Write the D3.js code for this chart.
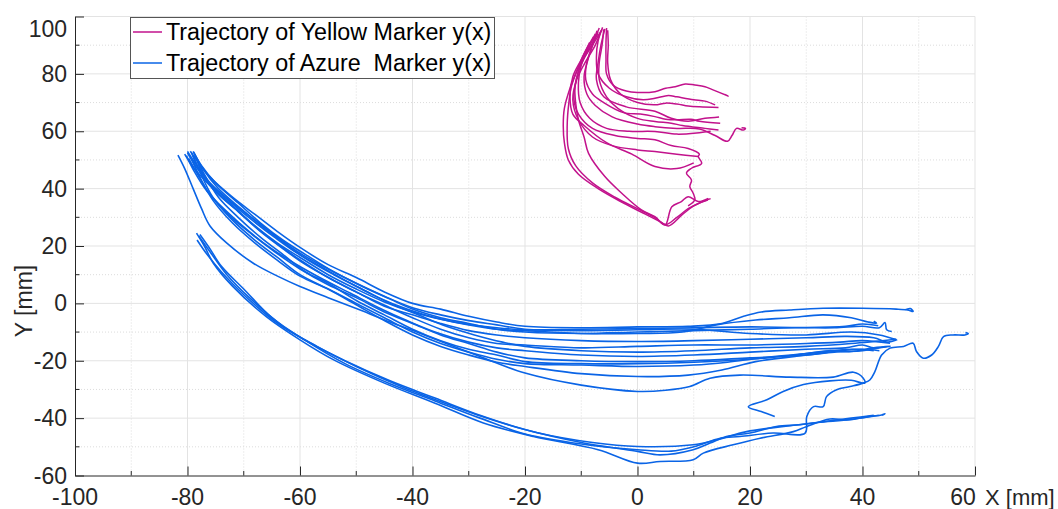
<!DOCTYPE html>
<html>
<head>
<meta charset="utf-8">
<script src="https://cdn.jsdelivr.net/npm/d3@7"></script>
<style>
  body { margin: 0; background: #fff; }
  svg { display: block; font-family: "Liberation Sans", Arial, sans-serif; }
</style>
</head>
<body>
<div id="chart"></div>
<script>
// ---- data (mm) ----
const xMajor = [-100, -80, -60, -40, -20, 0, 20, 40, 60];
const xMinor = [-90, -70, -50, -30, -10, 10, 30, 50];
const yMajor = [-60, -40, -20, 0, 20, 40, 60, 80, 100];
const yMinor = [-50, -30, -10, 10, 30, 50, 70, 90];
const legendLabels = ["Trajectory of Yellow Marker y(x)", "Trajectory of Azure  Marker y(x)"];

// yellow marker runs
const yellow1 = [[-5.5,96],[-5.6,91],[-5.6,85],[-5.5,80],[-4.3,76],[-2,74],[0,73.5],[3.1,73.8],[5,75],[6.7,75.5],[8.5,76.5],[10.2,76.1],[12,75.5],[13.2,74.6],[16.1,72.3],[15.5,72.8]];
const yellow2 = [[-6.2,96.2],[-7,91.5],[-7.3,86],[-7,80],[-5,75],[-2,72],[1,71],[3.1,71.5],[5.5,72.5],[7,72],[10,71],[12,70.5],[13.8,69.2]];
const yellow3 = [[-5.3,95.2],[-5.2,90],[-5.3,84],[-4.8,78],[-3,73],[0,70],[3.1,69.2],[5,69.8],[7,69.5],[9,68.8],[11,68.5],[14.4,68.3]];
const yellow4 = [[-7.2,95],[-8,90],[-9,84],[-9.2,78],[-8,73],[-6,70],[-2.5,66.5],[0.5,66],[3.1,65.1],[5,64.2],[7,64],[9.5,64.2],[11,63.5],[14.7,62.8]];
const yellow5 = [[-6,95.5],[-6.3,90],[-6.8,84],[-6.8,78],[-5.5,72],[-3.5,68],[0,64.5],[3.1,63.4],[6,62.8],[8,62],[12,61],[14.4,60.4]];
const yellow6 = [[-6.8,96],[-7.8,91],[-8.8,85],[-9.5,79],[-9,73],[-7.5,69],[-4.5,65],[0,62.5],[3.1,61.6],[7,61],[11,60.8],[13.8,58.5],[16,56.5],[16.8,58.5],[17.6,61],[18.8,60.4],[19.2,61],[18.5,61.2]];
const yellow7 = [[-7.5,94],[-8.7,89],[-10,83],[-10.5,77],[-10.2,70],[-8.5,64.5],[-5.5,61],[-1.5,60],[3.1,59.9],[7,59],[11,59.5],[13,60]];
const yellow8 = [[-7,94.5],[-8.5,90],[-10,84],[-11,77],[-11.3,71],[-10.5,66],[-8,61],[-4,58.5],[0,57.5],[3.1,57],[6,55],[9,54],[11,52],[10.8,51.2],[11.4,48.8],[9.6,47.1],[8.7,45.4],[9.6,43],[9.3,40.7],[9.9,38.4],[10.2,36.1],[9,34]];
const yellow9 = [[-6.5,95],[-7.5,90],[-9.3,84],[-10.8,78],[-11.5,71],[-10.5,64],[-8,58],[-4.5,55],[0,53.5],[3.1,52.9],[7,52],[10.8,51.2]];
const yellow10 = [[-7,94],[-8.8,88],[-10.3,82],[-11.1,75.5],[-11,70],[-10.5,64],[-9.5,58],[-8.7,52.3],[-5.8,44.2],[-2.8,38.4],[0.7,32.6],[3.1,30.2],[4.9,27.3],[6.1,33.7],[7.8,35.5],[9,37.2],[10.8,35.5],[12.6,36.6]];
const yellow11 = [[-6.3,95.5],[-8,90],[-10,84],[-11.7,76],[-12.2,70],[-12.5,62],[-12.3,54],[-11,48],[-8,42],[-4,37],[0,33],[3,30],[5,27.5],[7,30],[9,33],[11,35],[13,36.5]];
const yellow12 = [[-7.8,93],[-9.5,87],[-10.8,81],[-12,75],[-13,68],[-13.2,62],[-13,56],[-12.3,50],[-10.5,45],[-7,40],[-3,35.5],[1,31.5],[4,28.5],[5.5,27],[8,31],[10,34],[12.5,36]];
const yellow13 = [[-5.8,95.7],[-6.5,90],[-7,84],[-7.3,78],[-6,72],[-2,68.5],[3.1,67],[6,64.5],[9,63.5],[12,64.5],[14.5,65]];
const yellow14 = [[-8.5,91],[-10,85],[-11.5,79],[-12,72],[-11.5,66],[-9.5,62],[-5.5,56],[-1,52],[3.1,47.7],[7,47],[10,49]];

// azure marker runs
const azure1 = [[-79.5,53],[-78,49],[-76,44],[-72,37],[-68,31],[-64,25],[-60,19.5],[-55,13.5],[-50,9],[-45,4],[-40,0],[-35,-2],[-30,-4.5],[-25,-6.5],[-20,-8],[-10,-8.5],[0,-8.2],[9,-8],[15,-7],[19,-4.4],[22,-3],[27,-2.3],[33,-1.7],[40,-1.7],[46,-2],[48,-2.3],[49,-2.8],[48.5,-1.8],[47.5,-2.3]];
const azure2 = [[-80,53],[-78.5,48.5],[-76,42],[-72,35],[-68,29],[-64,23],[-60,17.5],[-55,12],[-50,7],[-45,2.5],[-40,-1.5],[-35,-4],[-30,-6],[-25,-7.5],[-20,-9],[-10,-9.5],[0,-9.2],[10,-9],[20,-10.5],[30,-11],[38,-10],[43,-11],[46.1,-12.7],[45.5,-12.3]];
const azure3 = [[-79,53],[-77.5,48],[-75,42],[-71,35],[-67,28],[-63,22],[-59,17],[-54,11],[-49,6],[-44,1.5],[-40,-2],[-35,-5],[-30,-7],[-25,-9],[-20,-10],[-10,-10.5],[0,-10],[10,-9.5],[20,-9],[28,-8.5],[35,-8.5],[40,-8],[43,-8.5],[44,-6.7],[44.3,-9.2],[45.2,-9.8]];
const azure4 = [[-80.5,52],[-79,47.5],[-76,41],[-72,34],[-68,27],[-64,21],[-60,16],[-55,10],[-50,5],[-45,0.5],[-40,-3],[-35,-5.5],[-30,-7.5],[-25,-9],[-20,-9.5],[-10,-10.5],[0,-10.5],[8,-10],[14,-7.5],[21,-5.8],[27,-5],[33,-4],[38,-5],[41,-6.5],[42.5,-6.9],[42,-6.2]];
const azure5 = [[-79.3,52.5],[-78,47],[-75.5,40],[-71.5,33],[-67.5,26],[-63.5,20],[-59.5,14.5],[-55,9],[-50,4],[-45,-1],[-40,-4],[-35,-7],[-30,-9.5],[-25,-11],[-20,-12],[-10,-13],[0,-13.3],[10,-13],[20,-12.5],[30,-12],[37,-11.5],[42,-12],[44.5,-13.5],[46,-12.8]];
const azure6 = [[-78.7,52],[-77.5,46],[-75,39],[-71,32],[-67,25],[-63,19],[-59,13.5],[-54,8],[-49,3],[-44,-1.5],[-40,-5],[-35,-9],[-30,-12],[-25,-14],[-20,-14.5],[-10,-15.5],[0,-15],[10,-14.5],[20,-14.5],[30,-14],[36,-13.5],[40,-13],[44.9,-13.9]];
const azure7 = [[-80.2,51.5],[-78.8,46],[-76.5,39],[-73,32],[-69,25],[-65,19],[-61,14],[-56,8.5],[-51,3.5],[-46,-1.5],[-41,-6],[-36,-10],[-30,-13.5],[-25,-15.5],[-20,-16.5],[-10,-18],[0,-18.5],[10,-18],[20,-17],[30,-16],[37,-15.5],[40,-14.5],[42,-15.5],[44.3,-15.1]];
const azure8 = [[-79.8,50.5],[-78.2,45],[-76,38],[-72.5,30.5],[-68.5,24],[-64.5,18],[-60,12],[-55,6.5],[-50,2],[-45,-3],[-40,-7],[-35,-11],[-30,-14],[-25,-17],[-20,-19],[-10,-20],[0,-20.3],[10,-20],[20,-19],[30,-18],[36,-16.5],[40,-16],[43,-16.5]];
const azure9 = [[-78.5,51],[-77,45],[-74.5,37],[-71,30],[-67,23],[-63,17],[-59,11],[-55,7],[-50,1],[-45,-4],[-40,-9],[-35,-13],[-30,-16],[-25,-18],[-20,-20.3],[-10,-21],[0,-21],[10,-20.5],[20,-19.5],[28,-18],[34,-16.5],[38,-16.8],[42,-15.5],[45,-15]];
const azure10 = [[-79.2,50],[-77.8,44],[-75.5,36],[-72,28],[-68,21],[-64,15],[-60,9.5],[-55,5],[-50,0],[-45,-5],[-40,-10],[-35,-14],[-30,-17],[-25,-19.5],[-20,-21],[-10,-21.5],[0,-22],[10,-21.5],[16,-20.5],[22,-19],[30,-17.5],[38,-16],[42,-16.5]];
const azure11 = [[-79,51.5],[-77.7,45.5],[-75.5,37],[-72,29],[-68,22],[-64,16],[-60,10],[-55,5],[-50,-0.5],[-45,-6],[-40,-11],[-35,-15],[-30,-18],[-25,-20.5],[-20,-22],[-10,-24.5],[0,-25.5],[9,-25],[15,-23.2],[21,-20.3],[28,-18.5],[35,-17],[40,-16.5],[43,-15.5]];
const azure12 = [[-81.7,51.7],[-80.5,47],[-79,40],[-77.5,33],[-76,27],[-73,21],[-68.3,14],[-64,9.5],[-60,5.9],[-55,2],[-49.3,-2.3],[-44,-6.5],[-38.7,-10.4],[-34,-14],[-28,-18.5],[-20,-24.3],[-10,-28.5],[0,-30.7],[5,-30.3],[9.3,-29],[12.9,-26.1],[18.2,-25],[27.1,-25.7],[34.8,-25.7],[38.4,-24],[40.1,-26],[40.4,-27.8],[38,-26.8],[34.2,-27],[29.5,-28.3],[25.9,-30.7],[23,-33.6],[19.7,-36],[22,-37.7],[24.4,-39.4]];
const azure13 = [[-80,52.5],[-78.6,48],[-76.2,42],[-72.5,35.5],[-68.5,29],[-64.5,23],[-60.5,17.5],[-56,12.5],[-51,7],[-46,2],[-41,-2],[-36,-5],[-31,-7],[-25,-8.5],[-20,-9.2],[-10,-9],[0,-8.8],[10,-8.5],[20,-8.2],[30,-8.4],[37,-8],[40,-7.2],[42.8,-7.8]];
const azure14 = [[-78.9,52.7],[-77.3,47],[-74.5,40],[-70.5,33],[-66.5,26.5],[-62.5,20.5],[-58.5,15],[-54,10],[-49,5],[-44,0],[-39,-4],[-34,-8],[-29,-11],[-24,-13.5],[-20,-15],[-10,-16.5],[0,-17],[10,-16.5],[20,-15.5],[30,-15],[38,-14],[46,-12.5]];
const azure15 = [[-78.4,24.5],[-77,20],[-75.4,14],[-72,6],[-66,-4.6],[-60,-12.7],[-54,-19.7],[-45,-27.8],[-36,-34.8],[-27.4,-41.7],[-18.5,-46.4],[-7,-51],[0,-55.7],[4,-55.1],[9.9,-54.5],[11.7,-52.2],[17,-49.3],[21.8,-47],[27.7,-44.7],[30,-43],[34.2,-40.3],[37.2,-40.6],[41.3,-39.4],[43.4,-38.9],[44,-38.5],[43.5,-39]];
const azure16 = [[-78.3,22.1],[-76.5,17],[-74,11],[-70,3],[-64,-7],[-58,-14],[-52,-20],[-44,-27],[-36,-33],[-28,-39],[-20,-44],[-10,-48.5],[0,-51.6],[4,-52.8],[9.9,-51],[12.9,-48.7],[15.8,-46.4],[20,-45.2],[24.7,-42.9],[28.9,-42.3],[34,-41],[38,-40],[42,-39]];
const azure17 = [[-78,23.5],[-76,18],[-73,10],[-69,2],[-63,-8],[-57,-15],[-50,-22],[-42,-29],[-34,-35],[-26,-40.5],[-18,-45],[-8,-48.5],[0,-49.9],[9.9,-49.3],[14,-47.6],[19.4,-44.7],[26,-42.9],[32,-41.5],[38,-40.5],[43,-39]];
const azure18 = [[-77.8,24],[-76,19],[-74,13],[-70,5],[-65,-5],[-59,-13],[-52,-21],[-44,-28],[-36,-34],[-28,-40],[-20,-45.5],[-10,-49],[0,-51],[6,-51.5],[10,-50],[14.7,-47],[18.2,-46.4],[24.1,-45.2],[29.8,-45.2],[30.1,-39.4],[31.3,-36],[33,-36],[33.6,-32.5],[35.4,-30.1],[37.8,-29],[40.1,-27.8],[41.3,-26.7],[42.2,-23.8],[43.4,-18],[44.9,-15.6],[47.3,-15],[49,-13.9],[49.6,-16.8],[50.8,-19.1],[52.3,-18],[53.5,-15],[54.4,-11.6],[56.1,-11],[58.2,-11],[58.8,-10.5],[58.3,-10.2]];

const yellowRuns = [yellow1, yellow2, yellow3, yellow4, yellow5, yellow6, yellow7, yellow8, yellow9, yellow10, yellow11, yellow12, yellow13, yellow14];
const azureRuns = [azure1, azure2, azure3, azure4, azure5, azure6, azure7, azure8, azure9, azure10, azure11, azure12, azure13, azure14, azure15, azure16, azure17, azure18];

// ---- layout ----
const W = 1058, H = 509;
const plotLeft = 75, plotRight = 975, plotTop = 16.5, plotBottom = 475.5;
const ink = "#262626";
const yellowColor = "#c2128c";
const azureColor = "#0a64e6";

const x = d3.scaleLinear().domain([-100, 60]).range([plotLeft, plotRight]);
const y = d3.scaleLinear().domain([-60, 100]).range([plotBottom, plotTop]);

const svg = d3.select("#chart").append("svg")
  .attr("width", W)
  .attr("height", H);

// minor grid (dotted)
svg.append("g").selectAll("line")
  .data(xMinor)
  .join("line")
  .attr("x1", d => x(d)).attr("x2", d => x(d))
  .attr("y1", plotTop).attr("y2", plotBottom)
  .attr("stroke", "#dcdcdc")
  .attr("stroke-dasharray", "1,2");
svg.append("g").selectAll("line")
  .data(yMinor)
  .join("line")
  .attr("x1", plotLeft).attr("x2", plotRight)
  .attr("y1", d => y(d)).attr("y2", d => y(d))
  .attr("stroke", "#dcdcdc")
  .attr("stroke-dasharray", "1,2");

// major grid
svg.append("g").selectAll("line")
  .data(xMajor.slice(1))
  .join("line")
  .attr("x1", d => x(d)).attr("x2", d => x(d))
  .attr("y1", plotTop).attr("y2", plotBottom)
  .attr("stroke", "#e3e3e3");
svg.append("g").selectAll("line")
  .data(yMajor.slice(1))
  .join("line")
  .attr("x1", plotLeft).attr("x2", plotRight)
  .attr("y1", d => y(d)).attr("y2", d => y(d))
  .attr("stroke", "#e3e3e3");

// trajectories
const line = d3.line()
  .x(d => x(d[0]))
  .y(d => y(d[1]))
  .curve(d3.curveCatmullRom.alpha(0.5));

svg.append("g").selectAll("path")
  .data(azureRuns)
  .join("path")
  .attr("d", line)
  .attr("fill", "none")
  .attr("stroke", azureColor)
  .attr("stroke-width", 1.6);

svg.append("g").selectAll("path")
  .data(yellowRuns)
  .join("path")
  .attr("d", line)
  .attr("fill", "none")
  .attr("stroke", yellowColor)
  .attr("stroke-width", 1.5);

// x axis: ticks inward
const xAxis = svg.append("g")
  .attr("transform", `translate(0,${plotBottom})`)
  .call(d3.axisBottom(x).tickValues(xMajor).tickSize(-9).tickSizeOuter(0));
xAxis.selectAll(".tick text").remove();
xAxis.append("g").selectAll("line")
  .data(xMinor)
  .join("line")
  .attr("x1", d => x(d)).attr("x2", d => x(d))
  .attr("y1", 0).attr("y2", -4.5)
  .attr("stroke", ink);
xAxis.selectAll("line, path").attr("stroke", ink);

svg.append("g").selectAll("text")
  .data(xMajor)
  .join("text")
  .attr("x", d => x(d) - (d === 60 ? 12 : 0))
  .attr("y", 505)
  .attr("text-anchor", "middle")
  .attr("fill", ink)
  .style("font-size", "23px")
  .text(d => String(d));

// y axis
const yAxis = svg.append("g")
  .attr("transform", `translate(${plotLeft},0)`)
  .call(d3.axisLeft(y).tickValues(yMajor).tickSize(-9).tickSizeOuter(0));
yAxis.selectAll(".tick text").remove();
yAxis.append("g").selectAll("line")
  .data(yMinor)
  .join("line")
  .attr("x1", 0).attr("x2", 4.5)
  .attr("y1", d => y(d)).attr("y2", d => y(d))
  .attr("stroke", ink);
yAxis.selectAll("line, path").attr("stroke", ink);

svg.append("g").selectAll("text")
  .data(yMajor)
  .join("text")
  .attr("x", 67)
  .attr("y", d => y(d) + (d === 100 ? 12 : 0))
  .attr("dy", "0.35em")
  .attr("text-anchor", "end")
  .attr("fill", ink)
  .style("font-size", "23px")
  .text(d => String(d));

// axis titles
svg.append("text")
  .attr("x", 985)
  .attr("y", 505)
  .attr("fill", ink)
  .style("font-size", "22px")
  .text("X [mm]");

svg.append("text")
  .attr("transform", "translate(32,301) rotate(-90)")
  .attr("text-anchor", "middle")
  .attr("fill", ink)
  .style("font-size", "23px")
  .text("Y [mm]");

// legend
const legend = svg.append("g");
legend.append("rect")
  .attr("x", 130.5).attr("y", 17.5)
  .attr("width", 364).attr("height", 61)
  .attr("fill", "#fff")
  .attr("stroke", "#555")
  .attr("stroke-width", 1);

const legendColors = [yellowColor, azureColor];
const items = legend.selectAll("g.item")
  .data(legendLabels)
  .join("g")
  .attr("class", "item")
  .attr("transform", (d, i) => `translate(0,${32 + i * 31})`);
items.append("line")
  .attr("x1", 133).attr("x2", 162)
  .attr("y1", 0).attr("y2", 0)
  .attr("stroke", (d, i) => legendColors[i])
  .attr("stroke-width", 1.5);
items.append("text")
  .attr("x", 166)
  .attr("y", 8)
  .attr("fill", "#000")
  .style("font-size", "23.3px")
  .style("white-space", "pre")
  .text(d => d);
</script>
</body>
</html>
